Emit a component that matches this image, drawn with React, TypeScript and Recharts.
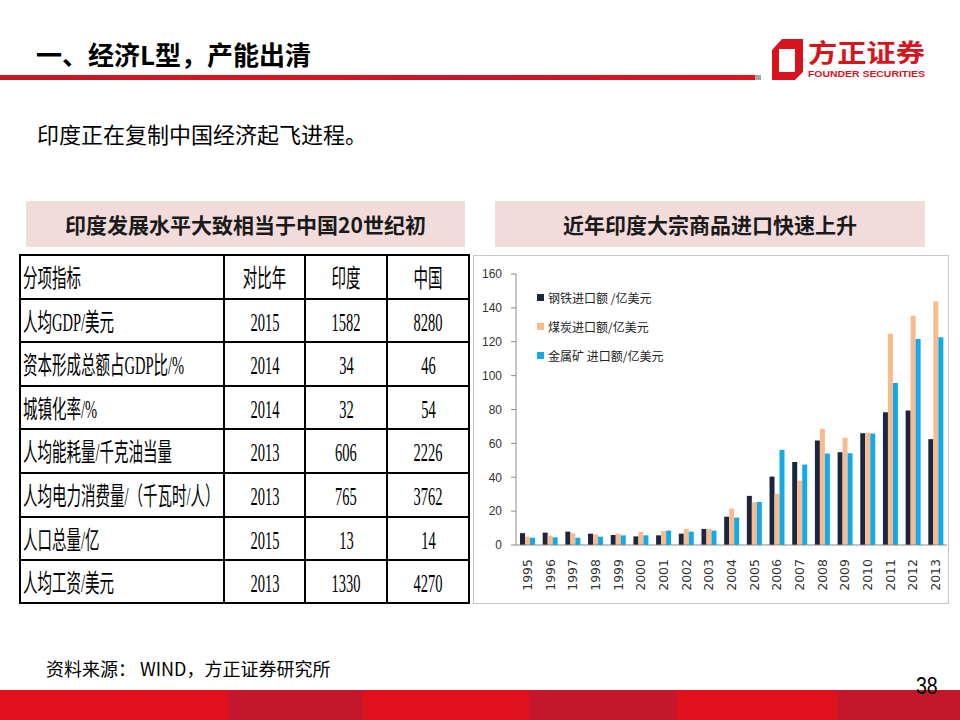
import { BarChart, Bar, XAxis, YAxis, Legend } from 'recharts';

const YEARS = ['1995', '1996', '1997', '1998', '1999', '2000', '2001', '2002', '2003', '2004', '2005', '2006', '2007', '2008', '2009', '2010', '2011', '2012', '2013'];
const STEEL = [7, 7.3, 7.9, 6.7, 5.9, 5.1, 5.7, 6.7, 9.5, 16.7, 29, 40.4, 49, 61.7, 54.8, 66, 78.4, 79.4, 62.5];
const COAL = [4.9, 5.5, 7, 6.3, 6.7, 7.7, 8.3, 9.5, 9.5, 21.5, 25.2, 30.3, 38, 68.6, 63.3, 66.2, 124.7, 135.4, 143.8];
const METAL = [4.3, 4.5, 4.3, 4.9, 5.7, 5.7, 8.5, 7.9, 8.5, 16.2, 25.4, 56.2, 47.5, 54, 54.2, 65.8, 95.6, 121.6, 122.6];
const Y_TICKS = [0, 20, 40, 60, 80, 100, 120, 140, 160];

const SERIES = [
  { key: 'steel', name: '钢铁进口额 /亿美元', color: '#1c2640' },
  { key: 'coal', name: '煤炭进口额/亿美元', color: '#f8bb8e' },
  { key: 'metal', name: '金属矿 进口额/亿美元', color: '#14aae8' },
];

const TABLE_HEAD = ['分项指标', '对比年', '印度', '中国'];
const TABLE_ROWS = [
  ['人均GDP/美元', '2015', '1582', '8280'],
  ['资本形成总额占GDP比/%', '2014', '34', '46'],
  ['城镇化率/%', '2014', '32', '54'],
  ['人均能耗量/千克油当量', '2013', '606', '2226'],
  ['人均电力消费量/（千瓦时/人）', '2013', '765', '3762'],
  ['人口总量/亿', '2015', '13', '14'],
  ['人均工资/美元', '2013', '1330', '4270'],
];
const COL_W = [204, 81, 82, 82];
const ROW_H = [44, 43, 44, 43, 44, 44, 43, 43];

const BAND = [
  { w: 228, c: '#e1121d' },
  { w: 135, c: '#c4172b' },
  { w: 166, c: '#e1121d' },
  { w: 148, c: '#c4172b' },
  { w: 160, c: '#e1121d' },
  { w: 123, c: '#c4172b' },
];

const chartData = YEARS.map((y, i) => ({ year: y, steel: STEEL[i], coal: COAL[i], metal: METAL[i] }));

const CJK = '"Noto Sans CJK SC", "Noto Sans", sans-serif';
const CELL_FONT = '"Liberation Serif", "Noto Sans CJK SC", serif';

const YearTick = ({ x, y, payload }: any) => (
  <text
    x={0}
    y={0}
    dy="0.36em"
    textAnchor="end"
    transform={`translate(${x},${y + 6}) rotate(-90)`}
    fontSize={12.5}
    fontFamily='"DejaVu Sans", sans-serif'
    fill="#333"
  >
    {payload.value}
  </text>
);

const renderLegend = () => (
  <div style={{ fontFamily: CJK, fontSize: 12, color: '#222' }}>
    {SERIES.map(s => (
      <div key={s.key} style={{ display: 'flex', alignItems: 'center', height: 29 }}>
        <span style={{ width: 7, height: 7, background: s.color, marginRight: 4, display: 'inline-block' }} />
        <span style={{ whiteSpace: 'pre' }}>{s.name}</span>
      </div>
    ))}
  </div>
);

const Cell = ({ text, first, h }: { text: string; first: boolean; h: number }) => (
  <td
    style={{
      border: '2px solid #000',
      height: h - 2,
      padding: 0,
      textAlign: first ? 'left' : 'center',
      verticalAlign: 'middle',
      overflow: 'hidden',
      whiteSpace: 'nowrap',
    }}
  >
    <span
      style={{
        display: 'inline-block',
        fontFamily: CELL_FONT,
        fontSize: 25,
        lineHeight: '28px',
        transform: 'scaleX(0.58)',
        transformOrigin: first ? 'left center' : 'center center',
        marginLeft: first ? 2 : 0,
        color: '#000',
        marginTop: 4,
      }}
    >
      {text}
    </span>
  </td>
);

const App = () => {
  return (
    <div style={{ position: 'absolute', left: 0, top: 0, width: 960, height: 720, background: '#fff', overflow: 'hidden', fontFamily: CJK }}>
      {/* title */}
      <div style={{ position: 'absolute', left: 36, top: 36, fontSize: 26, fontWeight: 700, color: '#000', lineHeight: '36px' }}>
        一、经济L型，产能出清
      </div>
      <div style={{ position: 'absolute', left: 0, top: 75, width: 755, height: 5, background: 'linear-gradient(90deg, #c21a26, #d9141f 40%, #c4172b 60%, #e1121d)' }} />
      <div style={{ position: 'absolute', left: 755, top: 75, width: 6, height: 5, background: '#a8a8a8' }} />

      {/* logo */}
      <svg style={{ position: 'absolute', left: 766, top: 30 }} width={170} height={56}>
        <polygon points="16,9 37,9 37,42 29,50 6,50 6,20" fill="#d7141e" />
        <rect x={13} y={19} width={16} height={23} fill="#fff" />
        <text x={42} y={32} fontSize={25} fontWeight={700} fill="#d7141e" fontFamily={CJK} textLength={117} lengthAdjust="spacingAndGlyphs">
          方正证券
        </text>
        <text x={42} y={47} fontSize={9.5} fontWeight={700} fill="#d7141e" fontFamily='"Liberation Sans", sans-serif' textLength={117} lengthAdjust="spacingAndGlyphs">
          FOUNDER SECURITIES
        </text>
      </svg>

      {/* subtitle */}
      <div style={{ position: 'absolute', left: 37, top: 118, fontSize: 22, color: '#000', lineHeight: '30px' }}>
        印度正在复制中国经济起飞进程。
      </div>

      {/* section headers */}
      <div style={{ position: 'absolute', left: 26, top: 201, width: 439, height: 46, background: '#f2dcdb', display: 'flex', alignItems: 'center', justifyContent: 'center', fontSize: 21, fontWeight: 700, color: '#1a1a1a' }}>
        印度发展水平大致相当于中国20世纪初
      </div>
      <div style={{ position: 'absolute', left: 495, top: 201, width: 430, height: 46, background: '#f2dcdb', display: 'flex', alignItems: 'center', justifyContent: 'center', fontSize: 21, fontWeight: 700, color: '#1a1a1a' }}>
        近年印度大宗商品进口快速上升
      </div>

      {/* table */}
      <table style={{ position: 'absolute', left: 19, top: 254, borderCollapse: 'collapse', tableLayout: 'fixed', width: COL_W.reduce((a, b) => a + b, 0) }}>
        <colgroup>
          {COL_W.map((w, i) => <col key={i} style={{ width: w }} />)}
        </colgroup>
        <tbody>
          {[TABLE_HEAD, ...TABLE_ROWS].map((row, r) => (
            <tr key={r}>
              {row.map((t, c) => <Cell key={c} text={t} first={c === 0} h={ROW_H[r]} />)}
            </tr>
          ))}
        </tbody>
      </table>

      {/* chart */}
      <div style={{ position: 'absolute', left: 473, top: 255, width: 474, height: 347, border: '1px solid #c6c6c6' }} />
      <div style={{ position: 'absolute', left: 473, top: 255 }}>
        <BarChart width={475} height={348} data={chartData} margin={{ top: 19, right: 1, left: 0, bottom: 0 }} barGap={0} barSize={5}>
          <XAxis
            dataKey="year"
            height={58}
            interval={0}
            tick={<YearTick />}
            tickLine={false}
            axisLine={{ stroke: '#8a8a8a' }}
          />
          <YAxis
            width={43}
            domain={[0, 160]}
            ticks={Y_TICKS}
            interval={0}
            tickSize={5}
            tickMargin={9}
            tick={{ fontSize: 12, fill: '#333', fontFamily: '"Liberation Sans", sans-serif' }}
            tickLine={{ stroke: '#8a8a8a' }}
            axisLine={{ stroke: '#8a8a8a' }}
          />
          <Legend
            layout="vertical"
            align="center"
            verticalAlign="middle"
            content={renderLegend}
            wrapperStyle={{ top: 28, left: 64, width: 'auto' }}
          />
          {SERIES.map(s => (
            <Bar key={s.key} dataKey={s.key} name={s.name} fill={s.color} isAnimationActive={false} />
          ))}
        </BarChart>
      </div>

      {/* footer */}
      <div style={{ position: 'absolute', left: 46, top: 655, fontSize: 18, color: '#000', lineHeight: '26px' }}>
        资料来源： WIND，方正证券研究所
      </div>
      <div style={{ position: 'absolute', left: 0, top: 690, width: 960, height: 30, display: 'flex' }}>
        {BAND.map((b, i) => <div key={i} style={{ width: b.w, height: 30, background: b.c }} />)}
      </div>
      <div style={{ position: 'absolute', left: 914, top: 672, fontSize: 23, color: '#000', fontFamily: '"Liberation Sans", sans-serif', transform: 'scaleX(0.85)', lineHeight: '28px' }}>
        38
      </div>
    </div>
  );
};

export default App;
